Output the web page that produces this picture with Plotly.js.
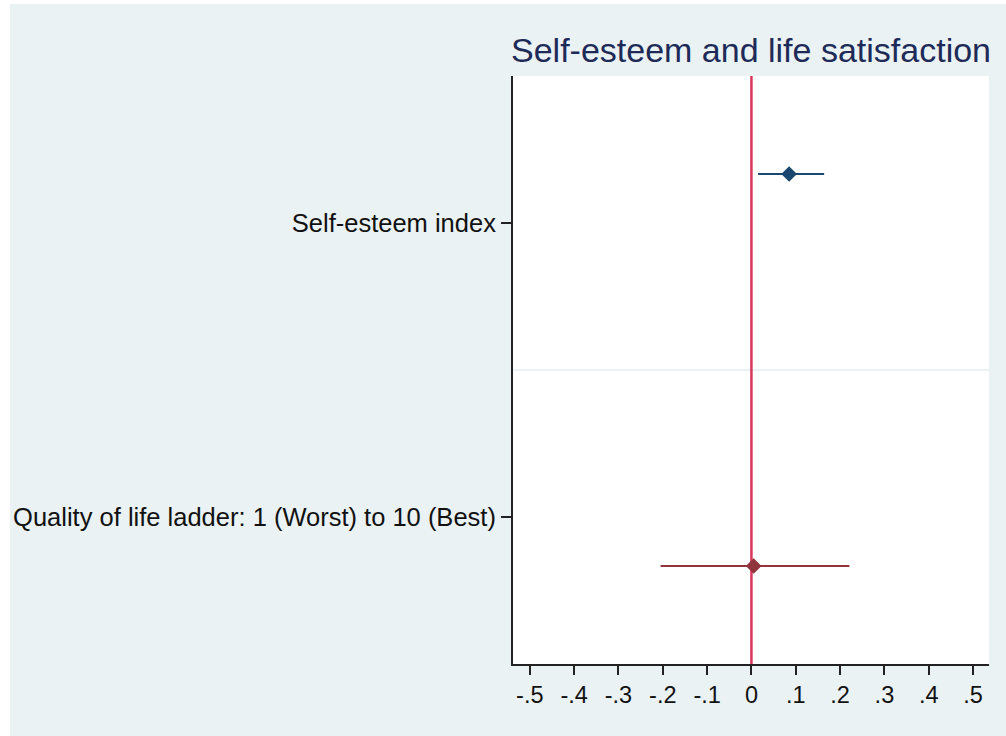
<!DOCTYPE html>
<html>
<head>
<meta charset="utf-8">
<script src="https://cdn.plot.ly/plotly-3.0.1.min.js"></script>
<style>
  html, body { margin: 0; padding: 0; background: #ffffff; }
  #chart { position: absolute; left: 10px; top: 4px; width: 996px; height: 732px; }
</style>
</head>
<body>
<div id="chart"></div>
<script>
// Data
const categories = ["Self-esteem index", "Quality of life ladder: 1 (Worst) to 10 (Best)"];
const seriesNames = ["Self-esteem index", "Quality of life ladder"];
const estimates = [0.085, 0.005];
const ciLow = [0.015, -0.205];
const ciHigh = [0.164, 0.221];
const xTickVals = [-0.5, -0.4, -0.3, -0.2, -0.1, 0, 0.1, 0.2, 0.3, 0.4, 0.5];
const xTickText = ["-.5", "-.4", "-.3", "-.2", "-.1", "0", ".1", ".2", ".3", ".4", ".5"];
const chartTitle = "Self-esteem and life satisfaction";

const colors = ["#1a476f", "#90353b"];
const offsets = [-1 / 6, 1 / 6];
const catPos = categories.map((c, i) => i + 1);

const traces = estimates.map((est, i) => ({
  type: "scatter",
  mode: "markers",
  name: seriesNames[i],
  x: [est],
  y: [catPos[i] + offsets[i]],
  marker: { symbol: "diamond", size: 12, color: colors[i] },
  error_x: {
    type: "data",
    symmetric: false,
    array: [ciHigh[i] - est],
    arrayminus: [est - ciLow[i]],
    color: colors[i],
    thickness: 2,
    width: 0
  },
  showlegend: false,
  hoverinfo: "x+name"
}));

const font = "Liberation Sans, Arial, sans-serif";

const layout = {
  width: 996,
  height: 732,
  paper_bgcolor: "#eaf2f3",
  plot_bgcolor: "#ffffff",
  margin: { l: 503, r: 17, t: 72, b: 72 },
  font: { family: font, color: "#111111" },
  title: {
    text: chartTitle,
    font: { family: font, size: 34, color: "#1e2b58" },
    x: 0.5,
    xref: "paper",
    xanchor: "center",
    y: 1 - 46 / 732,
    yref: "container",
    yanchor: "middle"
  },
  xaxis: {
    range: [-0.538, 0.536],
    tickvals: xTickVals,
    ticktext: xTickText,
    ticks: "outside",
    ticklen: 9,
    tickwidth: 2,
    tickcolor: "#222222",
    showline: true,
    linecolor: "#222222",
    linewidth: 2,
    showgrid: false,
    zeroline: false,
    tickfont: { family: font, size: 23.5, color: "#111111" },
    fixedrange: true
  },
  yaxis: {
    range: [2.5, 0.5],
    tickvals: catPos,
    ticktext: categories,
    ticks: "outside",
    ticklen: 10,
    tickwidth: 2,
    tickcolor: "#222222",
    showline: true,
    linecolor: "#222222",
    linewidth: 2,
    showgrid: false,
    zeroline: false,
    tickfont: { family: font, size: 25.5, color: "#111111" },
    fixedrange: true
  },
  shapes: [
    {
      type: "line", xref: "paper", x0: 0, x1: 1, yref: "y", y0: 1.5, y1: 1.5,
      line: { color: "#eaf2f3", width: 2 }, layer: "below"
    },
    {
      type: "line", xref: "x", x0: 0, x1: 0, yref: "paper", y0: 0, y1: 1,
      line: { color: "#d6385c", width: 2.5 }, layer: "below"
    }
  ]
};

Plotly.newPlot("chart", traces, layout, { displayModeBar: false, staticPlot: true });
</script>
</body>
</html>
